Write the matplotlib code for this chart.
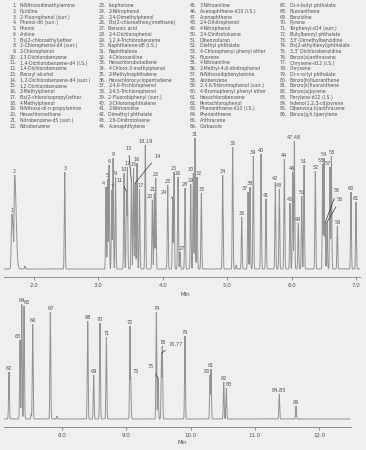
import numpy as np
import matplotlib
matplotlib.use("Agg")
import matplotlib.pyplot as plt

# ── Data ─────────────────────────────────────────────────────────────────────
compounds = [
    "N-Nitrosodimethylamine", "Pyridine", "2-Fluorophenol (surr.)", "Phenol-d6 (surr.)",
    "Phenol", "Aniline", "Bis(2-chloroethyl)ether", "2-Chlorophenol-d4 (surr.)",
    "2-Chlorophenol", "1,3-Dichlorobenzene", "1,4-Dichlorobenzene-d4 (I.S.)",
    "1,4-Dichlorobenzene", "Benzyl alcohol", "1,2-Dichlorobenzene-d4 (surr.)",
    "1,2-Dichlorobenzene", "2-Methylphenol", "Bis(2-chloroisopropyl)ether",
    "4-Methylphenol", "N-Nitroso-di-n-propylamine", "Hexachloroethane",
    "Nitrobenzene-d5 (surr.)", "Nitrobenzene",
    "Isophorone", "2-Nitrophenol", "2,4-Dimethylphenol", "Bis(2-chloroethoxy)methane)",
    "Benzoic acid", "2,4-Dichlorophenol", "1,2,4-Trichlorobenzene", "Naphthalene-d8 (I.S.)",
    "Naphthalene", "4-Chloroaniline", "Hexachlorobutadiene", "4-Chloro-3-methylphenol",
    "2-Methylnaphthalene", "Hexachlorocyclopentadiene", "2,4,6-Trichlorophenol",
    "2,4,5-Trichlorophenol", "2-Fluorobiphenyl (surr.)", "2-Chloronaphthalene",
    "2-Nitroaniline", "Dimethyl phthalate", "2,6-Dinitrotoluene", "Acenaphthylene",
    "3-Nitroaniline", "Acenaphthene-d10 (I.S.)", "Acenaphthene", "2,4-Dinitrophenol",
    "4-Nitrophenol", "2,4-Dinitrotoluene", "Dibenzofuran", "Diethyl phthalate",
    "4-Chlorophenyl phenyl ether", "Fluorene", "4-Nitroaniline",
    "2-Methyl-4,6-dinitrophenol", "N-Nitrosodiphenylamine", "Azobenzene",
    "2,4,6-Tribromophenol (surr.)", "4-Bromophenyl phenyl ether", "Hexachlorobenzene",
    "Pentachlorophenol", "Phenanthrene-d10 (I.S.)", "Phenanthrene", "Anthracene",
    "Carbazole",
    "Di-n-butyl phthalate", "Fluoranthene", "Benzidine", "Pyrene", "Terphenyl-d14 (surr.)",
    "Butylbenzyl phthalate", "3,3'-Dimethylbenzidine", "Bis(2-ethylhexyl)phthalate",
    "3,3' Dichlorobenzidine", "Benzo(a)anthracene", "Chrysene-d12 (I.S.)", "Chrysene",
    "Di-n-octyl phthalate", "Benzo(b)fluoranthene", "Benzo(k)fluoranthene",
    "Benzo(a)pyrene", "Perylene-d12 (I.S.)", "Indeno(1,2,3-cd)pyrene",
    "Dibenzo(a,h)anthracene", "Benzo(g,h,i)perylene",
]

# upper trace (1.5 - 7.1 min)
top_labels = ["1", "2", "3", "4", "5", "6", "7", "8", "9", "10", "11", "12", "13",
              "14", "15", "16", "17", "18,19", "20", "21", "22", "23", "24", "25",
              "26", "27", "28", "29", "30", "31", "32", "33", "34", "35", "36", "37",
              "38", "39", "40", "41", "42", "43", "44", "45", "46", "47,48", "49",
              "50", "51", "52", "53", "54", "55", "56", "57", "58", "59", "60", "61"]
top_rt = [1.658, 1.700, 2.477, 3.118, 3.144, 3.165, 3.207, 3.227, 3.266, 3.398,
          3.436, 3.449, 3.512, 3.571, 3.545, 3.599, 3.638, 3.728, 3.837, 3.868,
          3.890, 4.076, 4.154, 4.174, 4.236, 4.267, 4.345, 4.433, 4.474, 4.500,
          4.531, 4.598, 4.930, 5.085, 5.225, 5.323, 5.354, 5.405, 5.525, 5.602,
          5.747, 5.809, 5.887, 5.975, 6.017, 6.042, 6.104, 6.157, 6.193, 6.368,
          6.483, 6.503, 6.519, 6.550, 6.596, 6.617, 6.710, 6.922, 7.000]
top_height = [55, 94, 97, 82, 90, 104, 79, 111, 92, 96, 78, 102, 88, 86, 101, 106,
              80, 124, 69, 76, 91, 84, 71, 97, 92, 17, 81, 85, 96, 131, 92, 76, 94,
              122, 52, 77, 82, 113, 115, 70, 87, 80, 110, 66, 97, 128, 46, 73, 104,
              98, 105, 111, 46, 47, 102, 113, 43, 77, 67]
top_minor_rt = [1.86, 5.14]
top_minor_height = [3, 4]

# lower trace (7.1 - 12.5 min)
bot_labels = ["62", "63", "64", "65", "66", "67", "68", "69", "70", "71", "72", "73",
              "74", "75", "76,77", "78", "79", "80", "81", "82", "83", "84,85", "86"]
bot_rt = [7.175, 7.346, 7.373, 7.409, 7.544, 7.818, 8.400, 8.493, 8.591, 8.690,
          9.058, 9.069, 9.468, 9.494, 9.548, 9.561, 9.914, 10.304, 10.319, 10.517,
          10.557, 11.382, 11.642]
bot_height = [47, 79, 115, 113, 95, 107, 98, 44, 96, 82, 93, 42, 107, 41, 66, 73,
              83, 44, 50, 37, 31, 25, 13]
bot_minor_rt = [7.52, 7.92]
bot_minor_height = [5, 3]

top_ticks = [2.0, 3.0, 4.0, 5.0, 6.0, 7.0]
bot_ticks = [8.0, 9.0, 10.0, 11.0, 12.0]

# ── Style ────────────────────────────────────────────────────────────────────
BG = "#efefef"
TRACE = "#929292"
TXT = "#505050"
W, H = 366, 450

# label shifts in pixels (dx, dy) for labels that sit beside their peak
label_shift = {"4": (-3, 0), "5": (-1, 0), "17": (1, 0), "20": (-2, 0), "21": (-2, 0),
               "30": (-2, 0), "32": (2, 0), "37": (-3, 0), "46": (-1, 0), "53": (-2, 0),
               "57": (-2, 0), "27": (2, 0), "63": (-2, 0), "65": (3, 0), "73": (5, 2),
               "80": (-3, 0), "83": (3, 0)}
# labels joined to the peak with a leader line, offset in pixels from the apex
leaders = {"11": (-7, 11), "13": (-3, 33), "14": (22, 27), "24": (-9, 6),
           "55": (12, 32), "56": (13, 22), "75": (-7, 11), "76,77": (14, 9)}


def trace(t, rts, hs, early=1.8):
    y = np.zeros_like(t)
    for rt, h in zip(rts, hs):
        if rt < early:
            sig = np.where(t < rt, 0.010, 0.022)
        else:
            sig = 0.0065
        y = np.maximum(y, h * np.exp(-0.5 * ((t - rt) / sig) ** 2))
    return y


def draw_run(ax, t, labels, rts, hs, minor_rt, minor_h, ticks, xlim, ylim):
    y = trace(t, list(rts) + minor_rt, list(hs) + minor_h)
    ax.plot(t, y, color=TRACE, lw=0.7, solid_joinstyle="miter")
    ax.set_xlim(*xlim)
    ax.set_ylim(*ylim)
    ax.set_facecolor(BG)
    for s in ["top", "right", "left"]:
        ax.spines[s].set_visible(False)
    ax.spines["bottom"].set_color("#808080")
    ax.spines["bottom"].set_linewidth(0.6)
    ax.set_yticks([])
    ax.set_xticks(ticks)
    ax.set_xticklabels([f"{v:.1f}" for v in ticks])
    ax.tick_params(axis="x", length=2.5, width=0.6, color="#808080",
                   labelsize=4, labelcolor=TXT, pad=2)
    for lab, rt, h in zip(labels, rts, hs):
        if lab in leaders:
            dx, dy = leaders[lab]
            ax.annotate(lab, xy=(rt, h), xytext=(dx, dy), textcoords="offset pixels",
                        ha="center", va="center", fontsize=3.6, color=TXT,
                        arrowprops=dict(arrowstyle="-", color="#303030", lw=0.5,
                                        shrinkA=1.5, shrinkB=0))
        else:
            dx, dy = label_shift.get(lab, (0, 0))
            ax.annotate(lab, xy=(rt, h), xytext=(dx, 1 + dy), textcoords="offset pixels",
                        ha="center", va="bottom", fontsize=3.6, color=TXT)


fig = plt.figure(figsize=(W / 100, H / 100), dpi=100)
fig.patch.set_facecolor(BG)

# compound list, four columns
col_idx = [(0, 22), (22, 44), (44, 66), (66, 86)]
col_num_x = [17, 106, 197, 287]
for (a, b), xn in zip(col_idx, col_num_x):
    for i, k in enumerate(range(a, b)):
        yy = 1 - (5.7 + i * 5.73) / H
        fig.text(xn / W, yy, f"{k + 1}.", ha="right", va="center", fontsize=3.3, color=TXT)
        fig.text((xn + 2.5) / W, yy, compounds[k], ha="left", va="center",
                 fontsize=3.3, color=TXT)

# upper chromatogram
ax1 = fig.add_axes([4 / W, 1 - 277 / H, 356 / W, 147 / H])
t1 = np.arange(1.53, 7.065, 0.0004)
draw_run(ax1, t1, top_labels, top_rt, top_height, top_minor_rt, top_minor_height,
         top_ticks, (1.534, 7.062), (-8, 139))
fig.text(185 / W, 1 - 294 / H, "Min", ha="center", va="center", fontsize=4, color=TXT)

# lower chromatogram
ax2 = fig.add_axes([4 / W, 1 - 427 / H, 347 / W, 137 / H])
t2 = np.arange(7.097, 12.48, 0.0004)
draw_run(ax2, t2, bot_labels, bot_rt, bot_height, bot_minor_rt, bot_minor_height,
         bot_ticks, (7.097, 12.498), (-8, 129))
fig.text(182 / W, 1 - 443 / H, "Min", ha="center", va="center", fontsize=4, color=TXT)

fig.savefig("out.png", dpi=100, facecolor=BG)
